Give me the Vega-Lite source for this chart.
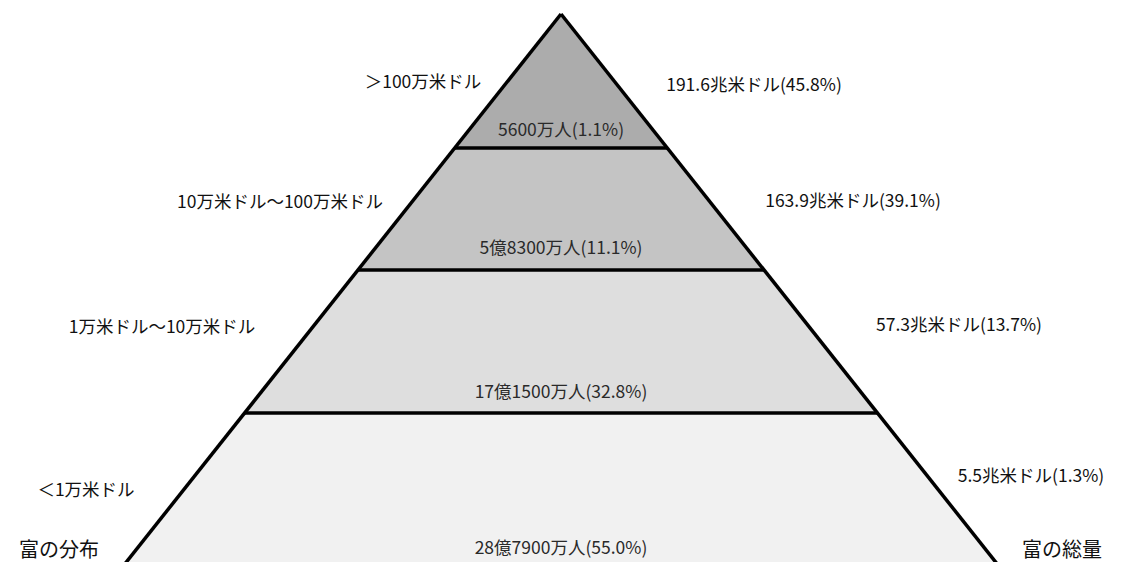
{
  "$schema": "https://vega.github.io/schema/vega-lite/v6.json",
  "width": 1123,
  "height": 562,
  "autosize": "none",
  "padding": 0,
  "background": "white",
  "config": {"view": {"stroke": null}},
  "datasets": {
    "tiers": [
      {"tier": "t1", "h": 548, "left": 561, "right": 561},
      {"tier": "t1", "h": 414, "left": 454.7, "right": 667.3},
      {"tier": "t2", "h": 414, "left": 454.7, "right": 667.3},
      {"tier": "t2", "h": 292, "left": 358, "right": 764},
      {"tier": "t3", "h": 292, "left": 358, "right": 764},
      {"tier": "t3", "h": 149, "left": 244.6, "right": 877.4},
      {"tier": "t4", "h": 149, "left": 244.6, "right": 877.4},
      {"tier": "t4", "h": -2, "left": 124.8, "right": 997.2}
    ],
    "bounds": [
      {"h": 414, "left": 454.7, "right": 667.3},
      {"h": 292, "left": 358, "right": 764},
      {"h": 149, "left": 244.6, "right": 877.4}
    ],
    "sides": [
      {"side": "left", "order": 1, "h": -2, "x": 124.8},
      {"side": "left", "order": 2, "h": 548, "x": 561},
      {"side": "right", "order": 1, "h": 548, "x": 561},
      {"side": "right", "order": 2, "h": -2, "x": 997.2}
    ],
    "sideLabels": [
      {"text": "＞100万米ドル", "x": 423, "h": 479},
      {"text": "10万米ドル～100万米ドル", "x": 280, "h": 359},
      {"text": "1万米ドル～10万米ドル", "x": 162, "h": 234},
      {"text": "＜1万米ドル", "x": 86, "h": 71},
      {"text": "191.6兆米ドル(45.8%)", "x": 754, "h": 476},
      {"text": "163.9兆米ドル(39.1%)", "x": 853, "h": 360},
      {"text": "57.3兆米ドル(13.7%)", "x": 959, "h": 236},
      {"text": "5.5兆米ドル(1.3%)", "x": 1031, "h": 85}
    ],
    "titles": [
      {"text": "富の分布", "x": 59, "h": 11},
      {"text": "富の総量", "x": 1062, "h": 11}
    ],
    "centerLabels": [
      {"text": "5600万人(1.1%)", "x": 561, "h": 431},
      {"text": "5億8300万人(11.1%)", "x": 561, "h": 313},
      {"text": "17億1500万人(32.8%)", "x": 561, "h": 169},
      {"text": "28億7900万人(55.0%)", "x": 561, "h": 13}
    ]
  },
  "layer": [
    {
      "data": {"name": "tiers"},
      "mark": {"type": "area", "orient": "horizontal"},
      "encoding": {
        "y": {"field": "h", "type": "quantitative", "scale": {"domain": [0, 562], "nice": false, "zero": false}, "axis": null},
        "x": {"field": "left", "type": "quantitative", "scale": {"domain": [0, 1123], "nice": false, "zero": false}, "axis": null},
        "x2": {"field": "right"},
        "color": {"field": "tier", "type": "nominal", "legend": null,
          "scale": {"domain": ["t1", "t2", "t3", "t4"], "range": ["#acacac", "#c4c4c4", "#dedede", "#f1f1f1"]}},
        "detail": {"field": "tier"}
      }
    },
    {
      "data": {"name": "bounds"},
      "mark": {"type": "rule", "color": "#000000", "strokeWidth": 3.5},
      "encoding": {
        "y": {"field": "h", "type": "quantitative"},
        "x": {"field": "left", "type": "quantitative"},
        "x2": {"field": "right"}
      }
    },
    {
      "data": {"name": "sides"},
      "mark": {"type": "line", "color": "#000000", "strokeWidth": 3.5, "strokeJoin": "miter"},
      "encoding": {
        "y": {"field": "h", "type": "quantitative"},
        "x": {"field": "x", "type": "quantitative"},
        "detail": {"field": "side"},
        "order": {"field": "order"}
      }
    },
    {
      "data": {"name": "sideLabels"},
      "mark": {"type": "text", "font": "Noto Sans CJK JP", "fontSize": 17.5, "align": "center", "baseline": "middle", "color": "#111111"},
      "encoding": {
        "y": {"field": "h", "type": "quantitative"},
        "x": {"field": "x", "type": "quantitative"},
        "text": {"field": "text"}
      }
    },
    {
      "data": {"name": "titles"},
      "mark": {"type": "text", "font": "Noto Sans CJK JP", "fontSize": 20, "align": "center", "baseline": "middle", "color": "#111111"},
      "encoding": {
        "y": {"field": "h", "type": "quantitative"},
        "x": {"field": "x", "type": "quantitative"},
        "text": {"field": "text"}
      }
    },
    {
      "data": {"name": "centerLabels"},
      "mark": {"type": "text", "font": "Noto Sans CJK JP", "fontSize": 17.5, "align": "center", "baseline": "middle", "color": "#2a2a2a"},
      "encoding": {
        "y": {"field": "h", "type": "quantitative"},
        "x": {"field": "x", "type": "quantitative"},
        "text": {"field": "text"}
      }
    }
  ]
}
